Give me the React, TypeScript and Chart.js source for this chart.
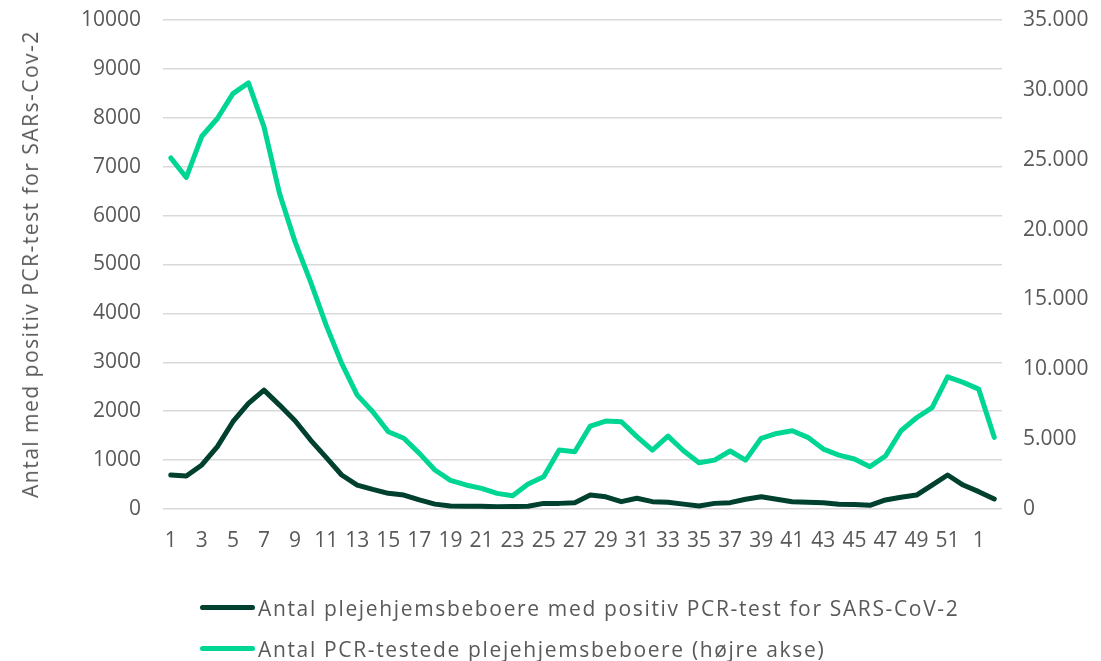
import React, { useEffect, useRef } from "react";
import { Chart, registerables } from "chart.js";

Chart.register(...registerables);

const weeks: string[] = [
  "1","2","3","4","5","6","7","8","9","10","11","12","13","14","15","16","17","18","19","20",
  "21","22","23","24","25","26","27","28","29","30","31","32","33","34","35","36","37","38","39","40",
  "41","42","43","44","45","46","47","48","49","50","51","52","1","2",
];

const positiveResidents: number[] = [
  695, 675, 900, 1275, 1785, 2160, 2430, 2125, 1805, 1410, 1055, 695, 490, 400, 320, 285, 185, 100, 60, 55,
  55, 45, 50, 55, 115, 115, 130, 285, 250, 150, 220, 150, 140, 100, 60, 115, 130, 200, 250, 200,
  150, 140, 130, 95, 90, 75, 185, 240, 285, 490, 695, 490, 355, 205,
];

const testedResidents: number[] = [
  25130, 23730, 26680, 27950, 29730, 30500, 27350, 22580, 19120, 16260, 13160, 10420, 8150, 6960, 5530, 5060, 3980, 2790, 2050, 1720,
  1480, 1120, 950, 1790, 2310, 4220, 4100, 5940, 6290, 6250, 5180, 4220, 5220, 4170, 3310, 3500, 4150, 3500, 5060, 5410,
  5600, 5130, 4290, 3860, 3580, 3030, 3790, 5600, 6530, 7250, 9460, 9060, 8580, 5130,
];

const seriesNames: string[] = [
  "Antal plejehjemsbeboere med positiv PCR-test for SARS-CoV-2",
  "Antal PCR-testede plejehjemsbeboere (højre akse)",
];
const yTitle = "Antal med positiv PCR-test for SARs-Cov-2";

const DARK = "#00402f";
const MINT = "#00d693";
const TEXT = "#595959";
const FONT = "'Open Sans', sans-serif";

function fmtDot(v: number): string {
  return String(v).replace(/\B(?=(\d{3})+(?!\d))/g, ".");
}

export default function App() {
  const ref = useRef<HTMLCanvasElement | null>(null);
  useEffect(() => {
    if (!ref.current) return;
    const chart = new Chart(ref.current, {
      type: "line",
      data: {
        labels: weeks,
        datasets: [
          {
            label: seriesNames[0],
            data: positiveResidents,
            borderColor: DARK,
            backgroundColor: DARK,
            borderWidth: 5,
            pointRadius: 0,
            tension: 0,
            yAxisID: "y",
            borderJoinStyle: "round",
            borderCapStyle: "round",
          },
          {
            label: seriesNames[1],
            data: testedResidents,
            borderColor: MINT,
            backgroundColor: MINT,
            borderWidth: 5,
            pointRadius: 0,
            tension: 0,
            yAxisID: "y1",
            borderJoinStyle: "round",
            borderCapStyle: "round",
          },
        ],
      },
      options: {
        responsive: false,
        animation: false,
        devicePixelRatio: 1,
        layout: { padding: { left: 0, right: 0, top: 20, bottom: 0 } },
        plugins: { legend: { display: false }, tooltip: { enabled: false } },
        scales: {
          x: {
            offset: true,
            grid: { display: false, drawTicks: false },
            border: { display: false },
            ticks: {
              autoSkip: false,
              maxRotation: 0,
              minRotation: 0,
              padding: 19,
              color: TEXT,
              font: { family: FONT, size: 21 },
              callback: (_v: any, i: number) => (i % 2 === 0 ? weeks[i] : ""),
            },
            afterFit: (s: any) => {
              s.height = 56;
              s.paddingLeft = 0;
              s.paddingRight = 0;
            },
          },
          y: {
            position: "left",
            min: 0,
            max: 10000,
            ticks: {
              stepSize: 1000,
              padding: 22,
              color: TEXT,
              font: { family: FONT, size: 21 },
              callback: (v: any) => String(v),
            },
            grid: { color: "#d9d9d9", lineWidth: 1.5, drawTicks: false },
            border: { display: false },
            afterFit: (s: any) => {
              s.width = 163;
              s.paddingTop = 0;
              s.paddingBottom = 0;
            },
          },
          y1: {
            position: "right",
            min: 0,
            max: 35000,
            ticks: {
              stepSize: 5000,
              padding: 21,
              color: TEXT,
              font: { family: FONT, size: 21 },
              callback: (v: any) => fmtDot(Number(v)),
            },
            grid: { display: false, drawTicks: false },
            border: { display: false },
            afterFit: (s: any) => {
              s.width = 99;
              s.paddingTop = 0;
              s.paddingBottom = 0;
            },
          },
        },
      },
    });
    return () => chart.destroy();
  }, []);

  return (
    <div style={{ position: "fixed", left: 0, top: 0, width: 1101, height: 661, background: "#fff", fontFamily: FONT, color: TEXT }}>
      <canvas ref={ref} width={1101} height={565} style={{ display: "block" }} />
      <div
        style={{
          position: "absolute",
          left: 30,
          top: 264,
          transform: "translate(-50%, -50%) rotate(-90deg)",
          whiteSpace: "nowrap",
          fontSize: 21,
          letterSpacing: "1.5px",
          lineHeight: "24px",
        }}
      >
        {yTitle}
      </div>
      <div style={{ position: "absolute", left: 200, top: 587, fontSize: 21, letterSpacing: "1.65px" }}>
        {[DARK, MINT].map((c, i) => (
          <div key={i} style={{ display: "flex", alignItems: "center", height: 41 }}>
            <div style={{ width: 55, height: 5, borderRadius: 3, background: c, marginRight: 3 }} />
            <span style={{ whiteSpace: "nowrap" }}>{seriesNames[i]}</span>
          </div>
        ))}
      </div>
    </div>
  );
}
